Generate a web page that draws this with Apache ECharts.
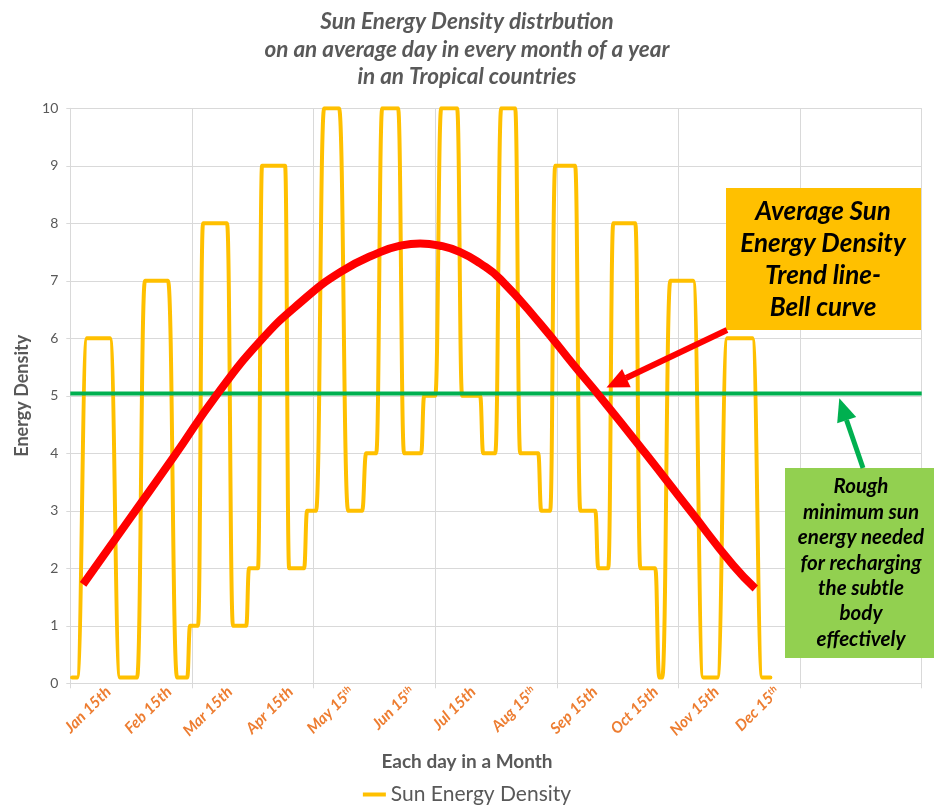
<!DOCTYPE html>
<html><head><meta charset="utf-8">
<script src="https://cdn.jsdelivr.net/npm/echarts@6/dist/echarts.min.js"></script>
<style>html,body{margin:0;padding:0;background:#fff}#c{width:934px;height:807px}</style>
</head><body><div id="c"></div>
<script>
// ---- data ----
const monthLabels = ['Jan 15th','Feb 15th','Mar 15th','Apr 15th','May 15th','Jun 15th','Jul 15th','Aug 15th','Sep 15th','Oct 15th','Nov 15th','Dec 15th','',''];
const superscriptTh = [false,false,false,false,true,true,false,true,false,false,false,true,false,false];
const yTicks = [0,1,2,3,4,5,6,7,8,9,10];

// Sun Energy Density: day of year (x) and value (y) at each corner of the curve
const sunDays = [0.9,3.5, 8.6,20.5, 25.7,34.5, 38.6,50.5, 55.2,60.4, 61.9,66.0, 68.6,81.0, 84.1,90.9, 92.4,97.0, 99.1,111.0,
  113.1,120.8, 122.4,127.0, 131.2,138.9, 143.6,150.8, 152.9,158.1, 161.2,169.4, 172.5,181.3, 182.9,188.6, 191.7,199.9,
  202.5,211.8, 213.4,219.6, 222.7,229.9, 232.5,241.8, 243.4,248.0, 250.6,260.9, 263.6,271.3, 272.9,278.0, 280.6,292.0,
  294.6,302.3, 304.4,305.9, 310.1,321.9, 327.1,334.4, 339.5,352.5, 357.6,361.8];
const sunValues = [0.1,0.1, 6,6, 0.1,0.1, 7,7, 0.1,0.1, 1,1, 8,8, 1,1, 2,2, 9,9,
  2,2, 3,3, 10,10, 3,3, 4,4, 10,10, 4,4, 5,5, 10,10,
  5,5, 4,4, 10,10, 4,4, 3,3, 9,9, 3,3, 2,2, 8,8,
  2,2, 0.1,0.1, 7,7, 0.1,0.1, 6,6, 0.1,0.1];

// Average trend line (bell curve)
const trendDays = [6.6, 30.9, 54.1, 75.3, 98.1, 118.8, 139.5, 160.1, 170.4, 180.8, 191.1, 201.5, 211.9, 222.2, 242.9, 261.0, 273.9, 297.2, 320.4, 342.6, 354.0];
const trendValues = [1.72, 2.87, 3.97, 5.0, 5.95, 6.62, 7.15, 7.5, 7.61, 7.65, 7.61, 7.5, 7.3, 7.03, 6.25, 5.5, 4.98, 4.0, 3.0, 2.05, 1.65];

// Minimum needed level
const thresholdDays = [0, 440];
const thresholdValues = [5.04, 5.04];

const dayAxisMax = 440;

// ---- chart ----
const pair = (xs, ys) => xs.map((x, i) => [x, ys[i]]);
const FONT = 'Lato, "Liberation Sans", sans-serif';
const GRAY = '#595959';
const GRID = '#D9D9D9';

const chart = echarts.init(document.getElementById('c'), null, {renderer: 'canvas'});
chart.setOption({
  animation: false,
  backgroundColor: '#fff',
  title: [{
    text: 'Sun Energy Density distrbution\non an average day in every month of a year\nin an Tropical countries',
    left: 'center', top: 8, padding: 0,
    textStyle: {fontFamily: FONT, fontSize: 22.5, fontWeight: 'bold', fontStyle: 'italic', color: GRAY, lineHeight: 27.5}
  }, {
    text: 'Each day in a Month',
    left: 'center', top: 751, padding: 0,
    textStyle: {fontFamily: FONT, fontSize: 19, fontWeight: 'bold', color: GRAY, lineHeight: 22}
  }],
  legend: {
    data: ['Sun Energy Density'],
    left: 'center', top: 779,
    icon: 'rect', itemWidth: 23, itemHeight: 4,
    textStyle: {fontFamily: FONT, fontSize: 21, color: GRAY}
  },
  grid: [
    {left: 70.3, right: 12.3, top: 108.3, bottom: 123.7},
    {left: 77.9, right: 4.7, top: 108.3, bottom: 123.7}
  ],
  xAxis: [{
    type: 'category', gridIndex: 0, data: monthLabels, boundaryGap: true,
    axisLine: {show: true, lineStyle: {color: GRID, width: 1}},
    axisTick: {show: true, interval: 1, length: 5, lineStyle: {color: GRID}},
    axisLabel: {show: false},
    splitLine: {show: true, interval: 1, lineStyle: {color: GRID, width: 1}}
  }, {
    type: 'value', gridIndex: 0, min: 0, max: dayAxisMax, show: false
  }, {
    type: 'category', gridIndex: 1, data: monthLabels, boundaryGap: true,
    axisLine: {show: false}, axisTick: {show: false}, splitLine: {show: false},
    axisLabel: {
      interval: 0, rotate: 45, margin: 6,
      formatter: (v, i) => {
        if (!v) return '';
        return superscriptTh[i] ? '{m|' + v.slice(0, -2) + '}{s|th}' : '{m|' + v + '}';
      },
      rich: {
        m: {fontFamily: FONT, fontSize: 15.5, fontWeight: 'bold', fontStyle: 'italic', color: '#ED7D31'},
        s: {fontFamily: FONT, fontSize: 9.5, fontWeight: 'bold', fontStyle: 'italic', color: '#ED7D31', verticalAlign: 'top'}
      }
    }
  }],
  yAxis: [{
    type: 'value', gridIndex: 0, min: yTicks[0], max: yTicks[yTicks.length - 1], interval: 1,
    name: 'Energy Density', nameLocation: 'middle', nameGap: 34,
    nameTextStyle: {fontFamily: FONT, fontSize: 18, fontWeight: 'bold', color: GRAY},
    axisLine: {show: true, lineStyle: {color: GRID}},
    axisTick: {show: true, length: 4, lineStyle: {color: GRID}},
    axisLabel: {fontFamily: FONT, fontSize: 14, color: GRAY, margin: 12},
    splitLine: {show: true, lineStyle: {color: GRID, width: 1}}
  }, {
    type: 'value', gridIndex: 1, min: 0, max: 10, show: false
  }],
  series: [{
    name: 'Sun Energy Density', type: 'line',
    xAxisIndex: 1, yAxisIndex: 0,
    data: pair(sunDays, sunValues),
    smooth: 0.5, smoothMonotone: 'x',
    showSymbol: false, symbol: 'none',
    lineStyle: {color: '#FFC000', width: 4, join: 'round', cap: 'round'},
    itemStyle: {color: '#FFC000'},
    z: 2
  }, {
    name: 'Minimum', type: 'line',
    xAxisIndex: 1, yAxisIndex: 0,
    data: pair(thresholdDays, thresholdValues),
    showSymbol: false, symbol: 'none',
    lineStyle: {color: '#00B050', width: 4},
    z: 3
  }, {
    name: 'Trend', type: 'line',
    xAxisIndex: 1, yAxisIndex: 0,
    data: pair(trendDays, trendValues),
    smooth: 0.5,
    showSymbol: false, symbol: 'none',
    lineStyle: {color: '#FF0000', width: 8, cap: 'butt'},
    z: 4
  }],
  graphic: [
    {type: 'rect', z: 100, shape: {x: 726, y: 188, width: 195, height: 142}, style: {fill: '#FFC000'}},
    {type: 'text', z: 101, style: {
      text: 'Average Sun\nEnergy Density\nTrend line-\nBell curve',
      x: 823, y: 196, textAlign: 'center', textVerticalAlign: 'top',
      font: 'italic bold 26px ' + FONT, lineHeight: 32, fill: '#000'}},
    {type: 'polyline', z: 102, shape: {points: [[727, 330], [626, 378]]}, style: {stroke: '#FF0000', lineWidth: 6, fill: null}},
    {type: 'polygon', z: 102, shape: {points: [[606.5, 387.5], [630.7, 387.2], [622.1, 369.1]]}, style: {fill: '#FF0000'}},
    {type: 'rect', z: 100, shape: {x: 785, y: 468, width: 149, height: 190}, style: {fill: '#92D050'}},
    {type: 'text', z: 101, style: {
      text: 'Rough\nminimum sun\nenergy needed\nfor recharging\nthe subtle\nbody\neffectively',
      x: 861, y: 474, textAlign: 'center', textVerticalAlign: 'top',
      font: 'italic bold 20.5px ' + FONT, lineHeight: 25.4, fill: '#000'}},
    {type: 'polyline', z: 102, shape: {points: [[863, 468], [846.5, 420]]}, style: {stroke: '#00B050', lineWidth: 5, fill: null}},
    {type: 'polygon', z: 102, shape: {points: [[839.3, 398.3], [856.2, 416.9], [837.2, 423.3]]}, style: {fill: '#00B050'}}
  ]
});
</script>
</body></html>
